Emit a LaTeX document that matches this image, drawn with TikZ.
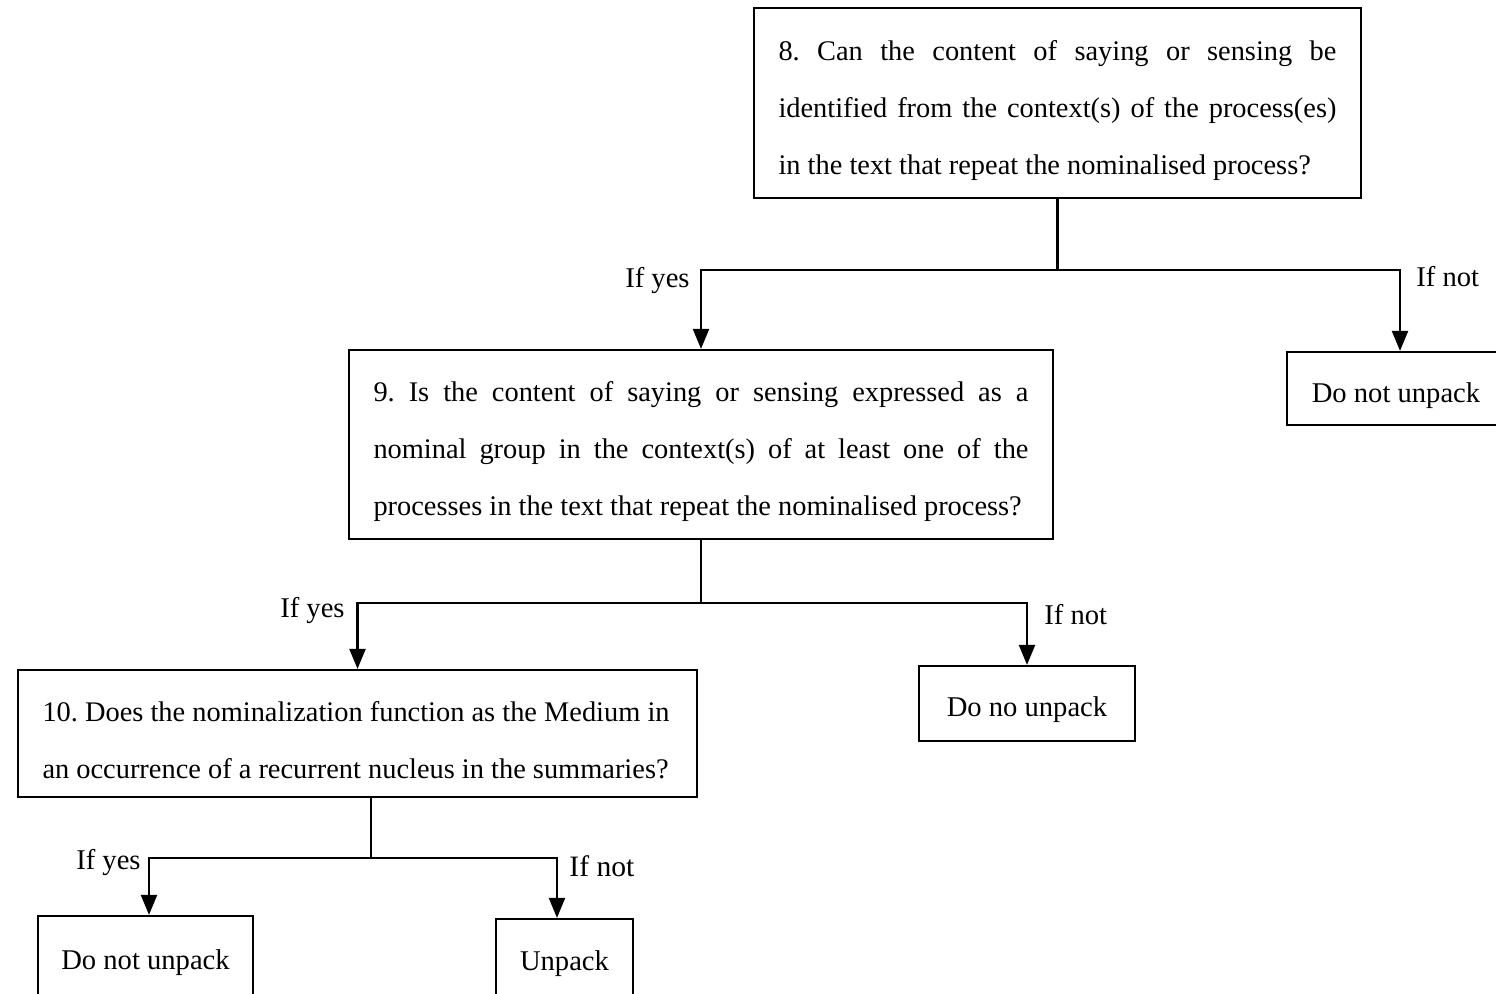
\documentclass[tikz,border=0pt]{standalone}
\usepackage{fontspec}
\setmainfont{Liberation Serif}
\usetikzlibrary{arrows.meta}
% question text and outcome/label text
\newcommand\qfont{\fontsize{14.2}{28.5}\selectfont\frenchspacing}
\newcommand\afont{\fontsize{14.3}{17}\selectfont\frenchspacing}
% a line spread out to a given width
\newcommand\jl[2]{\hbox to #1{\spaceskip=0.25em plus 1fil\relax #2}}
\begin{document}
\begin{tikzpicture}[x=0.5pt,y=-0.5pt,
  frame/.style={draw, line width=1.1pt, inner sep=0pt},
  qtext/.style={inner sep=0pt, align=left, font=\qfont},
  atext/.style={inner sep=0pt, font=\afont},
  link/.style={line width=1.1pt},
  arr/.style={link, -{Triangle[length=10pt,width=8pt]}},
  lab/.style={inner sep=0pt, font=\afont}]
\useasboundingbox (0,0) rectangle (1496,994);

% question boxes
\node[frame, minimum width=303.5pt, minimum height=95pt] (b8) at (1057.5,103) {};
\node[qtext] (t8) at ([yshift=-4pt]b8.center)
  {\jl{279pt}{8. Can the content of saying or sensing be}\\
   \jl{279pt}{identified from the context(s) of the process(es)}\\
   \hbox to 279pt{in the text that repeat the nominalised process?\hfil}};
\node[frame, minimum width=352pt, minimum height=94.5pt] (b9) at (701,444.5) {};
\node[qtext] (t9) at ([yshift=-3.5pt]b9.center)
  {\jl{327.5pt}{9. Is the content of saying or sensing expressed as a}\\
   \jl{327.5pt}{nominal group in the context(s) of at least one of the}\\
   \hbox to 327.5pt{processes in the text that repeat the nominalised process?\hfil}};
\node[frame, minimum width=339.5pt, minimum height=63.5pt] (b10) at (357.5,733.5) {};
\node[qtext] (t10) at ([yshift=-3.5pt]b10.center)
  {\hbox to 315pt{10. Does the nominalization function as the Medium in\hfil}\\
   \hbox to 315pt{an occurrence of a recurrent nucleus in the summaries?\hfil}};

% outcome boxes
\node[frame, minimum width=113pt, minimum height=36.5pt] (dnu1) at (1400,388.5) {};
\node[atext] (tdnu1) at ([xshift=-2pt,yshift=-3.5pt]dnu1.center) {Do not unpack};
\node[frame, minimum width=108pt, minimum height=37.5pt] (dno) at (1027,703.5) {};
\node[atext] (tdno) at ([yshift=-3pt]dno.center) {Do no unpack};
\node[frame, minimum width=107.5pt, minimum height=44pt] (dnu2) at (145.5,960) {};
\node[atext] (tdnu2) at ([yshift=-1.5pt]dnu2.center) {Do not unpack};
\node[frame, minimum width=68.5pt, minimum height=42.5pt] (unp) at (564.5,961.5) {};
\node[atext] (tunp) at ([yshift=-1pt]unp.center) {Unpack};

% branches from question 8
\coordinate (j8) at (b8.south |- 0,270);
\draw[link] (b8.south) -- (j8);
\draw[arr] (j8) -| (b9.north);
\draw[arr] (j8) -| (dnu1.north);
\node[lab, anchor=base east] (ly8) at (690,288) {If yes};
\node[lab, anchor=base west] (ln8) at (1416,287) {If not};

% branches from question 9
\coordinate (j9) at (b9.south |- 0,603);
\draw[link] (b9.south) -- (j9);
\draw[arr] (j9) -| (b10.north);
\draw[arr] (j9) -| (dno.north);
\node[lab, anchor=base east] (ly9) at (345,618) {If yes};
\node[lab, anchor=base west] (ln9) at (1044,625) {If not};

% branches from question 10
\coordinate (j10) at (371,858);
\coordinate (y10) at (149,858);
\coordinate (n10) at (557,858);
\draw[link] (j10 |- b10.south) -- (j10);
\draw[arr] (j10) -- (y10) -- (y10 |- dnu2.north);
\draw[arr] (j10) -- (n10) -- (n10 |- unp.north);
\node[lab, anchor=base east] (ly10) at (141,870) {If yes};
\node[lab, anchor=base west, font=\fontsize{14.8}{17}\selectfont] (ln10) at (569,877) {If not};
\end{tikzpicture}
\end{document}
